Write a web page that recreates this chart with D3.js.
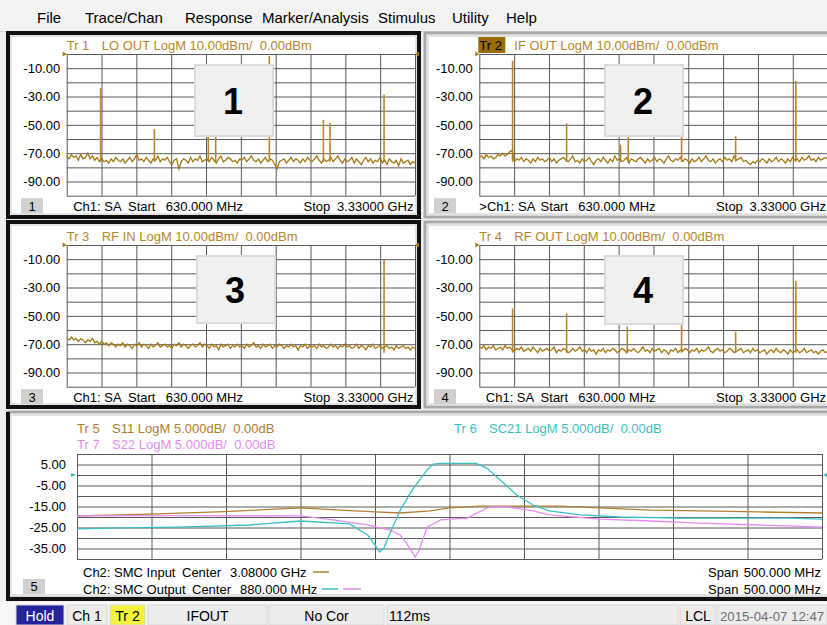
<!DOCTYPE html>
<html>
<head>
<meta charset="UTF-8">
<script src="https://d3js.org/d3.v7.min.js"></script>
<style>
body { margin: 0; background: #f0f0f0; overflow: hidden; }
svg text { font-family: 'Liberation Sans', Arial, sans-serif; white-space: pre; }
</style>
</head>
<body>
<svg id="chart" width="827" height="625"></svg>
<script>
// ---- Ch1 spectrum analyzer sweep (MHz) ----
var sweepStart = 630, sweepStop = 3330;
var freqGrid = [630, 900, 1170, 1440, 1710, 1980, 2250, 2520, 2790, 3060, 3330];
var levelGrid = [-100, -90, -80, -70, -60, -50, -40, -30, -20, -10, 0];
var levelLabels = [-10, -30, -50, -70, -90];
var spikeBase = -76;

// noise floor (dBm), evenly spaced sweep points
var loOutNoise = [-72,-74,-71,-73,-72,-75,-71,-74,-73,-70,-74,-72,-75,-73,-76,
 -74,-76,-75,-77,-74,-76,-73,-75,-76,-74,-77,-75,-73,-76,-74,
 -71,-75,-74,-76,-73,-75,-77,-74,-75,-72,-76,-74,-75,-73,-76,
 -78,-75,-74,-81,-76,-74,-75,-77,-73,-76,-74,-75,-72,-76,-75,
 -74,-76,-73,-75,-77,-74,-72,-76,-75,-73,-74,-76,-75,-77,-74,
 -75,-73,-76,-74,-72,-75,-76,-74,-77,-75,-73,-76,-74,-75,-78,
 -81,-76,-75,-74,-77,-75,-73,-76,-74,-75,-77,-74,-76,-73,-75,
 -76,-74,-72,-75,-77,-74,-76,-75,-73,-76,-74,-72,-75,-77,-74,
 -76,-75,-73,-77,-74,-76,-78,-75,-73,-76,-74,-77,-75,-76,-73,
 -77,-75,-78,-74,-76,-77,-75,-79,-74,-77,-76,-75,-78,-76,-77];
var loOutSpikes = [[893, -24], [1310, -53], [1728, -50], [1785, -50], [2201, -1.5], [2620, -46.5], [2671, -48.5], [3090, -28.5]];

var ifOutNoise = [-73,-72,-74,-71,-73,-72,-74,-73,-71,-72,-70,-72,-71,-69,-68,
 -76,-74,-75,-73,-76,-74,-75,-77,-74,-76,-73,-75,-74,-76,-75,
 -73,-76,-74,-77,-75,-74,-73,-75,-76,-74,-72,-76,-75,-77,-74,
 -76,-75,-73,-76,-78,-75,-74,-76,-73,-75,-77,-74,-76,-72,-75,
 -74,-76,-75,-73,-77,-74,-75,-76,-74,-73,-75,-77,-74,-76,-75,
 -73,-76,-74,-75,-77,-74,-72,-75,-76,-74,-75,-73,-76,-74,-75,
 -77,-74,-76,-75,-73,-76,-74,-72,-75,-76,-74,-77,-75,-74,-76,
 -73,-75,-74,-76,-72,-75,-74,-73,-76,-75,-77,-78,-76,-77,-75,
 -76,-74,-75,-77,-74,-76,-75,-73,-76,-74,-75,-77,-74,-76,-73,
 -75,-74,-76,-73,-75,-74,-72,-75,-74,-76,-73,-75,-74,-73,-74];
var ifOutSpikes = [[888, -4.7], [1307, -49], [1725, -64], [1785, -52], [2198, -45], [2617, -58], [3084, -19]];

var rfInNoise = [-66,-67,-65,-67,-66,-68,-66,-67,-69,-67,-68,-66,-69,-68,-70,
 -68,-70,-69,-71,-69,-70,-72,-70,-71,-69,-72,-70,-71,-73,-70,
 -71,-69,-72,-70,-71,-73,-70,-72,-71,-69,-72,-71,-70,-72,-71,
 -73,-70,-71,-69,-72,-70,-71,-73,-71,-70,-72,-71,-69,-72,-70,
 -71,-73,-70,-72,-71,-74,-70,-72,-71,-70,-73,-71,-72,-70,-72,
 -71,-73,-70,-72,-71,-69,-72,-71,-73,-70,-72,-71,-70,-73,-71,
 -72,-70,-71,-73,-71,-72,-70,-72,-71,-74,-71,-72,-70,-73,-71,
 -72,-71,-73,-70,-72,-71,-73,-72,-70,-72,-71,-73,-71,-72,-70,
 -72,-71,-73,-72,-70,-73,-71,-72,-74,-71,-72,-70,-73,-72,-71,
 -73,-72,-71,-73,-72,-74,-71,-73,-72,-71,-73,-72,-74,-72,-73];
var rfInSpikes = [[3090, -10.1]];

var rfOutNoise = [-72,-73,-71,-74,-72,-73,-71,-74,-73,-72,-74,-71,-73,-72,-74,
 -75,-73,-74,-72,-75,-74,-73,-75,-72,-74,-76,-73,-75,-74,-73,
 -75,-74,-72,-76,-74,-75,-73,-74,-76,-75,-73,-75,-74,-72,-75,
 -74,-76,-73,-75,-74,-77,-74,-75,-73,-76,-74,-75,-73,-74,-76,
 -75,-73,-74,-76,-74,-75,-73,-75,-76,-74,-72,-75,-74,-76,-73,
 -75,-74,-73,-76,-74,-75,-77,-74,-75,-73,-76,-74,-75,-73,-74,
 -76,-74,-75,-73,-76,-74,-75,-74,-72,-75,-76,-74,-73,-75,-74,
 -76,-75,-73,-74,-76,-75,-74,-73,-76,-75,-74,-76,-73,-75,-74,
 -76,-75,-74,-77,-75,-74,-76,-73,-75,-76,-74,-75,-77,-74,-76,
 -75,-74,-76,-75,-73,-76,-75,-74,-76,-75,-77,-75,-74,-76,-75];
var rfOutSpikes = [[888, -44.7], [1307, -48.2], [1777, -57.6], [2198, -55.3], [2617, -61.2], [3084, -25.2]];

// ---- Ch2 SMC (MHz, dB) ----
var inGrid = [2830, 2880, 2930, 2980, 3030, 3080, 3130, 3180, 3230, 3280, 3330];
var outGrid = [630, 680, 730, 780, 830, 880, 930, 980, 1030, 1080, 1130];
var dbGrid = [-40, -35, -30, -25, -20, -15, -10, -5, 0, 5, 10];
var dbLabels = [5, -5, -15, -25, -35];

var s11Freq = [2830, 2879, 2929, 2980, 3007, 3030, 3047, 3067, 3080, 3100, 3127, 3154, 3181, 3215, 3248, 3288, 3330];
var s11 = [-19.5, -18.6, -17.4, -15.7, -16.7, -17.6, -18.1, -17.1, -15.7, -14.8, -14.8, -14.8, -15.7, -16.7, -17.1, -17.6, -18.1];

var sc21Freq = [630, 659, 699, 746, 780, 813, 825, 830, 833, 836, 839, 847, 855, 865, 869, 874, 898, 905, 914, 925, 936, 947, 968, 994, 1035, 1075, 1108, 1130];
var sc21 = [-25.7, -25.2, -24.8, -23.8, -21.9, -23.3, -28.6, -33.3, -36.7, -34.8, -29.5, -16.7, -7.1, 2.4, 5.2, 5.5, 5.5, 3.3, -2.4, -9.5, -14.3, -17.1, -19.0, -20.0, -20.5, -20.5, -20.5, -21.0];

var s22Freq = [630, 710, 780, 802, 825, 840, 847, 851, 855, 857, 859, 862, 865, 874, 892, 896, 907, 919, 936, 947, 981, 1015, 1048, 1088, 1130];
var s22 = [-19.5, -19.3, -19.5, -21.4, -23.8, -26.2, -28.6, -32.4, -36.7, -39.0, -36.7, -31.0, -24.8, -21.4, -20.5, -19.0, -15.2, -15.2, -17.1, -19.0, -21.0, -21.9, -22.9, -23.8, -24.8];

var menuItems = ["File", "Trace/Chan", "Response", "Marker/Analysis", "Stimulus", "Utility", "Help"];

// ---- drawing ----
var font = "'Liberation Sans', Arial, sans-serif";
var goldTrace = "#a67814", goldText = "#b8862b";
var teal = "#3cbfc4", violet = "#e48cf4", brown = "#b08030";
var gridColor = "#5a5a5a";
var svg = d3.select("#chart");

svg.append("rect").attr("width", 827).attr("height", 625).attr("fill", "#f0f0f0");

// menu bar
var menuX = [37, 85, 185, 262, 378, 452, 506];
svg.append("rect").attr("x", 0).attr("y", 0).attr("width", 827).attr("height", 31).attr("fill", "#f3f3f3");
svg.append("line").attr("x1", 0).attr("x2", 827).attr("y1", 31.5).attr("y2", 31.5).attr("stroke", "#d8d8d8");
svg.selectAll(".menu").data(menuItems).join("text")
  .attr("x", function(d, i) { return menuX[i]; })
  .attr("y", 23).attr("font-size", 15).attr("fill", "#000")
  .text(function(d) { return d; });

// panel frames
function frame(x, y, w, h, dark) {
  svg.append("rect").attr("x", x).attr("y", y).attr("width", w).attr("height", h)
    .attr("fill", "#fff").attr("stroke", dark ? "#111" : "#a9a9a9").attr("stroke-width", dark ? 4 : 3);
  svg.append("rect").attr("x", x + 3).attr("y", y + 3).attr("width", w - 6).attr("height", h - 6)
    .attr("fill", "none").attr("stroke", "#c8c8c8").attr("stroke-width", 1);
}
frame(8, 33, 411, 184, true);
frame(8, 222, 411, 185, true);
frame(425, 33, 410, 184, false);
frame(425, 222, 410, 185, false);
frame(8, 412, 827, 186, false);
svg.append("line").attr("x1", 8).attr("x2", 8).attr("y1", 412).attr("y2", 600).attr("stroke", "#111").attr("stroke-width", 4);
svg.append("line").attr("x1", 6).attr("x2", 827).attr("y1", 599).attr("y2", 599).attr("stroke", "#111").attr("stroke-width", 4);

var plotW = 348.3, plotH = 141.7;

function gridAndLabels(g, x, y, xTicks, yTicks, yLabels, left, top, w, h, labelRight) {
  g.append("g").attr("transform", "translate(" + left + ",0)")
    .call(d3.axisLeft(y).tickValues(yTicks).tickSize(-w).tickFormat(""))
    .call(function(s) { s.select(".domain").remove(); })
    .selectAll("line").attr("stroke", gridColor);
  g.append("g").attr("transform", "translate(0," + (top + h) + ")")
    .call(d3.axisBottom(x).tickValues(xTicks).tickSize(-h).tickFormat(""))
    .call(function(s) { s.select(".domain").remove(); })
    .selectAll("line").attr("stroke", gridColor);
  var lab = g.append("g").attr("transform", "translate(" + labelRight + ",0)")
    .call(d3.axisLeft(y).tickValues(yLabels).tickSize(0).tickPadding(0)
      .tickFormat(function(d) { return d.toFixed(2); }));
  lab.select(".domain").remove();
  lab.attr("font-size", 13).attr("font-family", font);
  lab.selectAll("text").attr("fill", "#000");
}

function spectrumPanel(conf) {
  var g = svg.append("g");
  var left = conf.left, top = conf.top;
  var x = d3.scaleLinear().domain([sweepStart, sweepStop]).range([left, left + plotW]);
  var y = d3.scaleLinear().domain([-100, 0]).range([top + plotH, top]);

  gridAndLabels(g, x, y, freqGrid, levelGrid, levelLabels, left, top, plotW, plotH, left - 6.5);

  // spikes then the noise floor
  g.selectAll(".spike").data(conf.spikes).join("line")
    .attr("x1", function(d) { return x(d[0]); }).attr("x2", function(d) { return x(d[0]); })
    .attr("y1", y(spikeBase)).attr("y2", function(d) { return y(d[1]); })
    .attr("stroke", "#b8862a").attr("stroke-width", 1.6);
  var step = (sweepStop - sweepStart) / (conf.noise.length - 1);
  g.append("path").datum(conf.noise)
    .attr("fill", "none").attr("stroke", goldTrace).attr("stroke-width", 1.3)
    .attr("d", d3.line()
      .x(function(d, i) { return x(sweepStart + i * step); })
      .y(function(d) { return y(d); }));

  // reference markers
  g.append("path").attr("d", "M" + (left - 4) + "," + (top - 2.5) + "L" + left + "," + top + "L" + (left - 4) + "," + (top + 2.5) + "Z").attr("fill", goldTrace);
  g.append("path").attr("d", "M" + (left + plotW + 4) + "," + (top - 2.5) + "L" + (left + plotW) + "," + top + "L" + (left + plotW + 4) + "," + (top + 2.5) + "Z").attr("fill", goldTrace);

  // window number box
  g.append("rect").attr("x", conf.boxX).attr("y", top + 11).attr("width", 78).attr("height", conf.boxH)
    .attr("fill", "#f0f0f0").attr("stroke", "#dcdcdc").attr("stroke-width", 2);
  g.append("text").attr("x", conf.boxX + 38).attr("y", top + 11 + conf.boxH / 2 + 13)
    .attr("text-anchor", "middle").attr("font-size", 36).attr("font-weight", "bold").attr("fill", "#000")
    .text(conf.num);

  // title
  if (conf.active) {
    g.append("rect").attr("x", left - 1).attr("y", top - 17).attr("width", 27).attr("height", 16).attr("fill", "#9c6c04");
  }
  g.append("text").attr("x", left).attr("y", top - 4.5).attr("font-size", 13)
    .attr("fill", conf.active ? "#000" : goldText).text("Tr " + conf.num);
  g.append("text").attr("x", left + 35).attr("y", top - 4.5).attr("font-size", 13)
    .attr("fill", goldText).text(conf.title);

  // footer
  var fy = top + plotH + 15.5;
  g.append("rect").attr("x", conf.numX).attr("y", top + plotH + 2.5).attr("width", 22).attr("height", 15).attr("fill", "#d0d0d0");
  g.append("text").attr("x", conf.numX + 11).attr("y", fy).attr("text-anchor", "middle").attr("font-size", 13).text(conf.num);
  g.append("text").attr("x", conf.active ? left : left + 6.5).attr("y", fy).attr("font-size", 13)
    .text((conf.active ? ">" : "") + "Ch1: SA");
  g.append("text").attr("x", left + 61.3).attr("y", fy).attr("font-size", 13).text("Start");
  g.append("text").attr("x", left + 99).attr("y", fy).attr("font-size", 13).text("630.000 MHz");
  g.append("text").attr("x", left + plotW - 111.5).attr("y", fy).attr("font-size", 13).text("Stop");
  g.append("text").attr("x", left + plotW - 1.5).attr("y", fy).attr("text-anchor", "end").attr("font-size", 13).text("3.33000 GHz");
}

spectrumPanel({ num: 1, left: 66.7, top: 54, title: "LO OUT LogM 10.00dBm/  0.00dBm", noise: loOutNoise, spikes: loOutSpikes, boxX: 195, boxH: 71, numX: 21 });
spectrumPanel({ num: 2, left: 479.3, top: 54, title: "IF OUT LogM 10.00dBm/  0.00dBm", noise: ifOutNoise, spikes: ifOutSpikes, boxX: 605, boxH: 71, numX: 434, active: true });
spectrumPanel({ num: 3, left: 66.7, top: 245, title: "RF IN LogM 10.00dBm/  0.00dBm", noise: rfInNoise, spikes: rfInSpikes, boxX: 197, boxH: 67, numX: 21 });
spectrumPanel({ num: 4, left: 479.3, top: 245, title: "RF OUT LogM 10.00dBm/  0.00dBm", noise: rfOutNoise, spikes: rfOutSpikes, boxX: 605, boxH: 68, numX: 434 });

// ---- panel 5: SMC ----
(function() {
  var left = 77, top = 454, w = 745, h = 105;
  var g = svg.append("g");
  var xIn = d3.scaleLinear().domain([2830, 3330]).range([left, left + w]);
  var xOut = d3.scaleLinear().domain([630, 1130]).range([left, left + w]);
  var y = d3.scaleLinear().domain([-40, 10]).range([top + h, top]);

  gridAndLabels(g, xOut, y, outGrid, dbGrid, dbLabels, left, top, w, h, 66);

  function trace(fr, vals, xs, color) {
    g.append("path").datum(vals).attr("fill", "none").attr("stroke", color).attr("stroke-width", 1.3)
      .attr("d", d3.line().x(function(d, i) { return xs(fr[i]); }).y(function(d) { return y(d); }));
  }
  trace(s11Freq, s11, xIn, brown);
  trace(s22Freq, s22, xOut, violet);
  trace(sc21Freq, sc21, xOut, teal);

  // reference markers at 0 dB
  g.append("path").attr("d", "M" + (left - 6) + "," + (y(0) - 2) + "L" + (left - 1) + "," + y(0) + "L" + (left - 6) + "," + (y(0) + 2) + "Z").attr("fill", teal);
  g.append("path").attr("d", "M" + (left + w + 5) + "," + (y(0) - 2) + "L" + (left + w + 1) + "," + y(0) + "L" + (left + w + 5) + "," + (y(0) + 2) + "Z").attr("fill", teal);

  function title(x0, yb, tr, txt, color) {
    g.append("text").attr("x", x0).attr("y", yb).attr("font-size", 13).attr("fill", color).text(tr);
    g.append("text").attr("x", x0 + 35).attr("y", yb).attr("font-size", 13).attr("fill", color).text(txt);
  }
  title(77, 432.5, "Tr 5", "S11 LogM 5.000dB/  0.00dB", brown);
  title(77, 448.5, "Tr 7", "S22 LogM 5.000dB/  0.00dB", violet);
  title(454, 432.5, "Tr 6", "SC21 LogM 5.000dB/  0.00dB", teal);

  g.append("rect").attr("x", 23).attr("y", 579).attr("width", 22).attr("height", 15).attr("fill", "#d0d0d0");
  g.append("text").attr("x", 34).attr("y", 591).attr("text-anchor", "middle").attr("font-size", 13).text("5");

  g.append("text").attr("x", 83).attr("y", 576.5).attr("font-size", 13).text("Ch2: SMC Input");
  g.append("text").attr("x", 182).attr("y", 576.5).attr("font-size", 13).text("Center");
  g.append("text").attr("x", 230).attr("y", 576.5).attr("font-size", 13).text("3.08000 GHz");
  g.append("text").attr("x", 83).attr("y", 593.5).attr("font-size", 13).text("Ch2: SMC Output");
  g.append("text").attr("x", 192).attr("y", 593.5).attr("font-size", 13).text("Center");
  g.append("text").attr("x", 240).attr("y", 593.5).attr("font-size", 13).text("880.000 MHz");
  g.append("line").attr("x1", 313).attr("x2", 329).attr("y1", 572).attr("y2", 572).attr("stroke", brown).attr("stroke-width", 1.5);
  g.append("line").attr("x1", 322).attr("x2", 338).attr("y1", 589).attr("y2", 589).attr("stroke", teal).attr("stroke-width", 1.5);
  g.append("line").attr("x1", 343).attr("x2", 361).attr("y1", 589).attr("y2", 589).attr("stroke", violet).attr("stroke-width", 1.5);
  [576.5, 593.5].forEach(function(yb) {
    g.append("text").attr("x", 708).attr("y", yb).attr("font-size", 13).text("Span");
    g.append("text").attr("x", 821).attr("y", yb).attr("text-anchor", "end").attr("font-size", 13).text("500.000 MHz");
  });
})();

// ---- status bar ----
var statusCells = [
  { x: 16, w: 48, text: "Hold", fill: "#23239c", color: "#fff", anchor: "middle", size: 14 },
  { x: 67, w: 40, text: "Ch 1", fill: "#ececec", color: "#000", anchor: "middle", size: 14 },
  { x: 110, w: 35, text: "Tr 2", fill: "#f4f43c", color: "#000", anchor: "middle", size: 14 },
  { x: 148, w: 119, text: "IFOUT", fill: "#ececec", color: "#000", anchor: "middle", size: 14 },
  { x: 269, w: 115, text: "No Cor", fill: "#ececec", color: "#000", anchor: "middle", size: 14 },
  { x: 387, w: 291, text: "112ms", fill: "#ececec", color: "#000", anchor: "start", size: 14 },
  { x: 680, w: 36, text: "LCL", fill: "#ececec", color: "#000", anchor: "middle", size: 14 },
  { x: 718, w: 109, text: "2015-04-07 12:47", fill: "#ececec", color: "#6e6e6e", anchor: "start", size: 13.2 }
];
svg.append("rect").attr("x", 0).attr("y", 602).attr("width", 827).attr("height", 23).attr("fill", "#f7f7f7");
var cells = svg.selectAll(".cell").data(statusCells).join("g");
cells.append("rect").attr("x", function(d) { return d.x; }).attr("y", 605).attr("width", function(d) { return d.w; }).attr("height", 20)
  .attr("fill", function(d) { return d.fill; }).attr("stroke", "#d6d6d6");
cells.append("text")
  .attr("x", function(d) { return d.anchor === "middle" ? d.x + d.w / 2 : d.x + 2; })
  .attr("y", 621).attr("font-size", function(d) { return d.size; }).attr("text-anchor", function(d) { return d.anchor; })
  .attr("fill", function(d) { return d.color; })
  .text(function(d) { return d.text; });
</script>
</body>
</html>
